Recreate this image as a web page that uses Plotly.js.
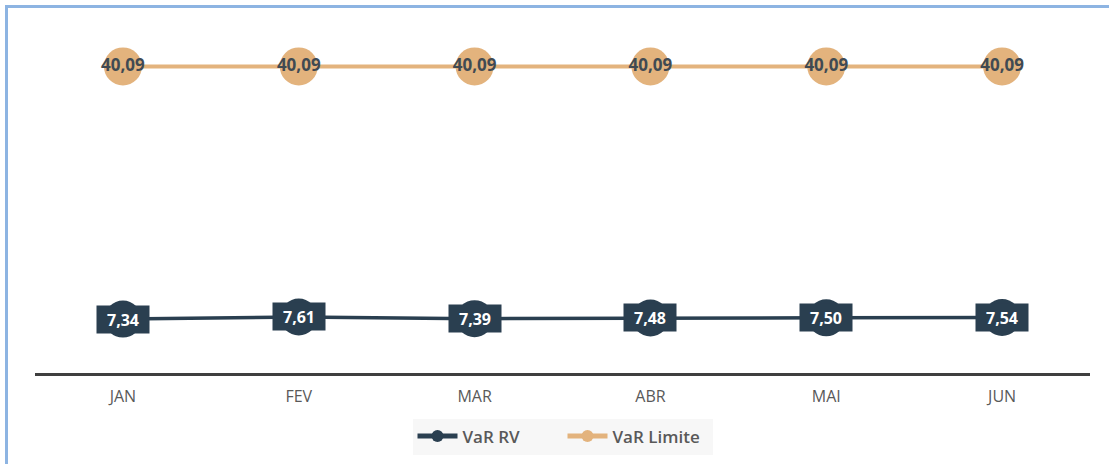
<!DOCTYPE html>
<html>
<head>
<meta charset="utf-8">
<script src="https://cdn.plot.ly/plotly-3.0.1.min.js"></script>
<style>
  html, body { margin: 0; padding: 0; background: #ffffff; }
  #frame {
    position: absolute; left: 5px; top: 5px; width: 1104px; height: 459px;
    border-top: 3px solid #8db4e2; border-left: 3px solid #8db4e2;
    box-sizing: border-box;
  }
  #chart { position: absolute; left: 0; top: 0; width: 1109px; height: 464px; }
</style>
</head>
<body>
<div id="chart"></div>
<div id="frame"></div>
<script>
// Monthly VaR figures (Portuguese month abbreviations)
const months = ['JAN', 'FEV', 'MAR', 'ABR', 'MAI', 'JUN'];
const varRV = [7.34, 7.61, 7.39, 7.48, 7.50, 7.54];
const varLimite = [40.09, 40.09, 40.09, 40.09, 40.09, 40.09];

const darkColor = '#2a3f50';
const tanColor = '#e3b37d';

// Brazilian-style decimal comma
const fmt = v => v.toFixed(2).replace('.', ',');

const traces = [
  {
    name: 'VaR RV',
    x: months, y: varRV,
    mode: 'lines+markers',
    line: { color: darkColor, width: 3.5 },
    marker: { color: darkColor, size: 37, symbol: 'circle' },
    hoverinfo: 'skip'
  },
  {
    name: 'VaR Limite',
    x: months, y: varLimite,
    mode: 'lines+markers+text',
    line: { color: tanColor, width: 4 },
    marker: { color: tanColor, size: 38, symbol: 'circle' },
    text: varLimite.map(fmt),
    textposition: 'middle center',
    textfont: { family: 'Open Sans, sans-serif', size: 17, color: '#404a52', weight: 'bold' },
    hoverinfo: 'skip'
  }
];

// Boxed value labels over the VaR RV markers
const annotations = months.map((m, i) => ({
  x: m, y: varRV[i], xref: 'x', yref: 'y',
  text: '<b>' + fmt(varRV[i]) + '</b>',
  showarrow: false,
  bgcolor: darkColor,
  width: 44, height: 19, borderpad: 4,
  font: { family: 'Open Sans, sans-serif', size: 16, color: '#ffffff' }
}));

const layout = {
  width: 1109, height: 464,
  margin: { l: 35, r: 19, t: 27, b: 91, autoexpand: false },
  paper_bgcolor: '#ffffff', plot_bgcolor: '#ffffff',
  showlegend: true,
  legend: {
    orientation: 'h', x: 0.5, xanchor: 'center',
    yref: 'container', y: 0.098, yanchor: 'top',
    bgcolor: '#f7f7f7',
    font: { family: 'Open Sans, sans-serif', size: 17, color: '#595959', weight: 600 },
    itemsizing: 'constant', itemwidth: 40, tracegroupgap: 0,
    entrywidth: 95, entrywidthmode: 'pixels'
  },
  xaxis: {
    type: 'category', range: [-0.5, 5.5],
    showgrid: false, zeroline: false,
    showline: true, linecolor: '#3f3f3f', linewidth: 2.5,
    ticks: '', ticklen: 0, ticklabelstandoff: 7,
    tickfont: { family: 'Open Sans, sans-serif', size: 16, color: '#595959' }
  },
  yaxis: {
    range: [0.35, 45.2], visible: false, showgrid: false, zeroline: false, fixedrange: true
  },
  annotations: annotations
};

Plotly.newPlot('chart', traces, layout, { displayModeBar: false, staticPlot: true });
</script>
</body>
</html>
